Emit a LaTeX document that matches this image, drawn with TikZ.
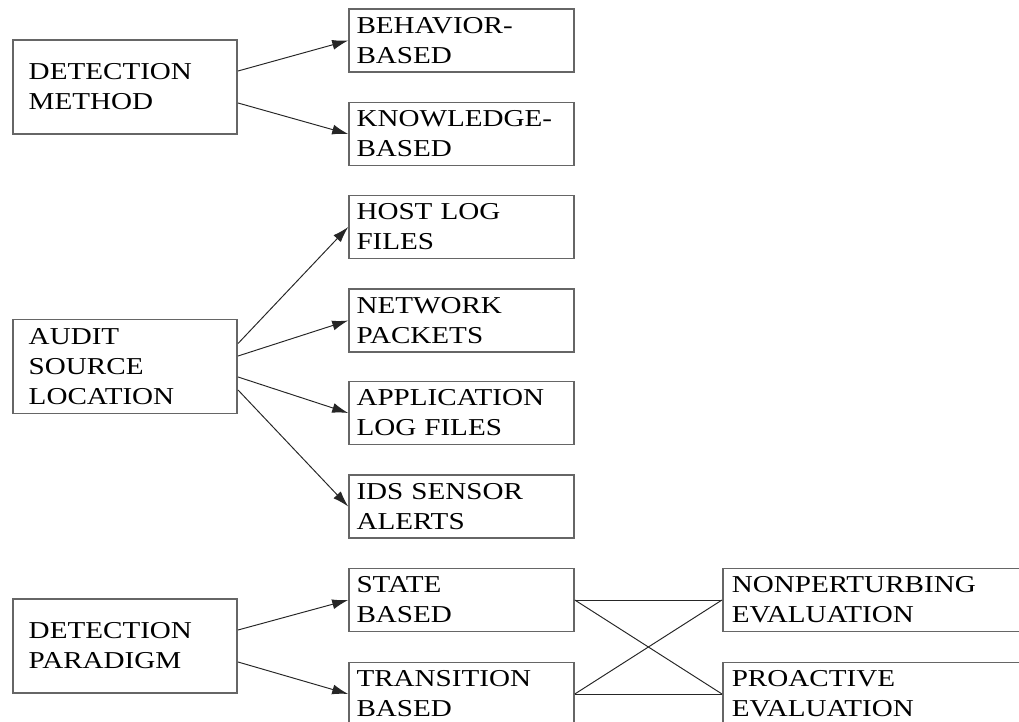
\documentclass[tikz,border=0pt]{standalone}
\usepackage{fontspec}
\setmainfont{Liberation Serif}[FakeStretch=1.2]
\usetikzlibrary{arrows.meta}

\tikzset{
  boxfont/.style={font=\fontsize{13.8}{17}\selectfont},
  lbox/.style={draw=black!60, line width=0.9pt, boxfont, minimum width=4.49cm, minimum height=1.88cm, text width=3.85cm, inner xsep=0.32cm, align=left},
  rbox/.style={draw=black!60, line width=0.9pt, boxfont, minimum width=4.5cm, minimum height=1.26cm, text width=4.2cm, inner xsep=0.15cm, align=left},
  ebox/.style={rbox, anchor=west, minimum width=6.6cm, text width=6.24cm, inner xsep=0.18cm},
  arr/.style={-{Latex[length=0.32cm,width=0.2cm]}, draw=black!85, line width=0.55pt},
  link/.style={draw=black!85, line width=0.55pt}
}

\begin{document}
\begin{tikzpicture}
  \clip (0,0) rectangle (20.38,-14.44);

  % left column
  \node[lbox] (detmethod) at (2.5,-1.74) {DETECTION\\METHOD};
  \node[lbox] (audit) at (2.5,-7.33) {AUDIT\\SOURCE\\LOCATION};
  \node[lbox] (detpar) at (2.5,-12.92) {DETECTION\\PARADIGM};

  % middle column
  \node[rbox] (behav) at (9.23,-0.81) {BEHAVIOR-\\BASED};
  \node[rbox] (knowl) at (9.23,-2.68) {KNOWLEDGE-\\BASED};
  \node[rbox] (hostlog) at (9.23,-4.54) {HOST LOG\\FILES};
  \node[rbox] (netpack) at (9.23,-6.41) {NETWORK\\PACKETS};
  \node[rbox] (applog) at (9.23,-8.26) {APPLICATION\\LOG FILES};
  \node[rbox] (idsalert) at (9.23,-10.13) {IDS SENSOR\\ALERTS};
  \node[rbox] (state) at (9.23,-12.0) {STATE\\BASED};
  \node[rbox] (trans) at (9.23,-13.88) {TRANSITION\\BASED};

  % right column
  \node[ebox] (nonpert) at (14.44,-12.0) {NONPERTURBING\\EVALUATION};
  \node[ebox] (proact) at (14.44,-13.88) {PROACTIVE\\EVALUATION};

  % arrows
  \draw[arr] ([yshift=0.32cm]detmethod.east) -- (behav.west);
  \draw[arr] ([yshift=-0.32cm]detmethod.east) -- (knowl.west);

  \draw[arr] ([yshift=0.46cm]audit.east) -- (hostlog.west);
  \draw[arr] ([yshift=0.21cm]audit.east) -- (netpack.west);
  \draw[arr] ([yshift=-0.21cm]audit.east) -- (applog.west);
  \draw[arr] ([yshift=-0.47cm]audit.east) -- (idsalert.west);

  \draw[arr] ([yshift=0.32cm]detpar.east) -- (state.west);
  \draw[arr] ([yshift=-0.32cm]detpar.east) -- (trans.west);

  % crossing links
  \draw[link] (state.east) -- (nonpert.west);
  \draw[link] (state.east) -- (proact.west);
  \draw[link] (trans.east) -- (nonpert.west);
  \draw[link] (trans.east) -- (proact.west);
\end{tikzpicture}
\end{document}
